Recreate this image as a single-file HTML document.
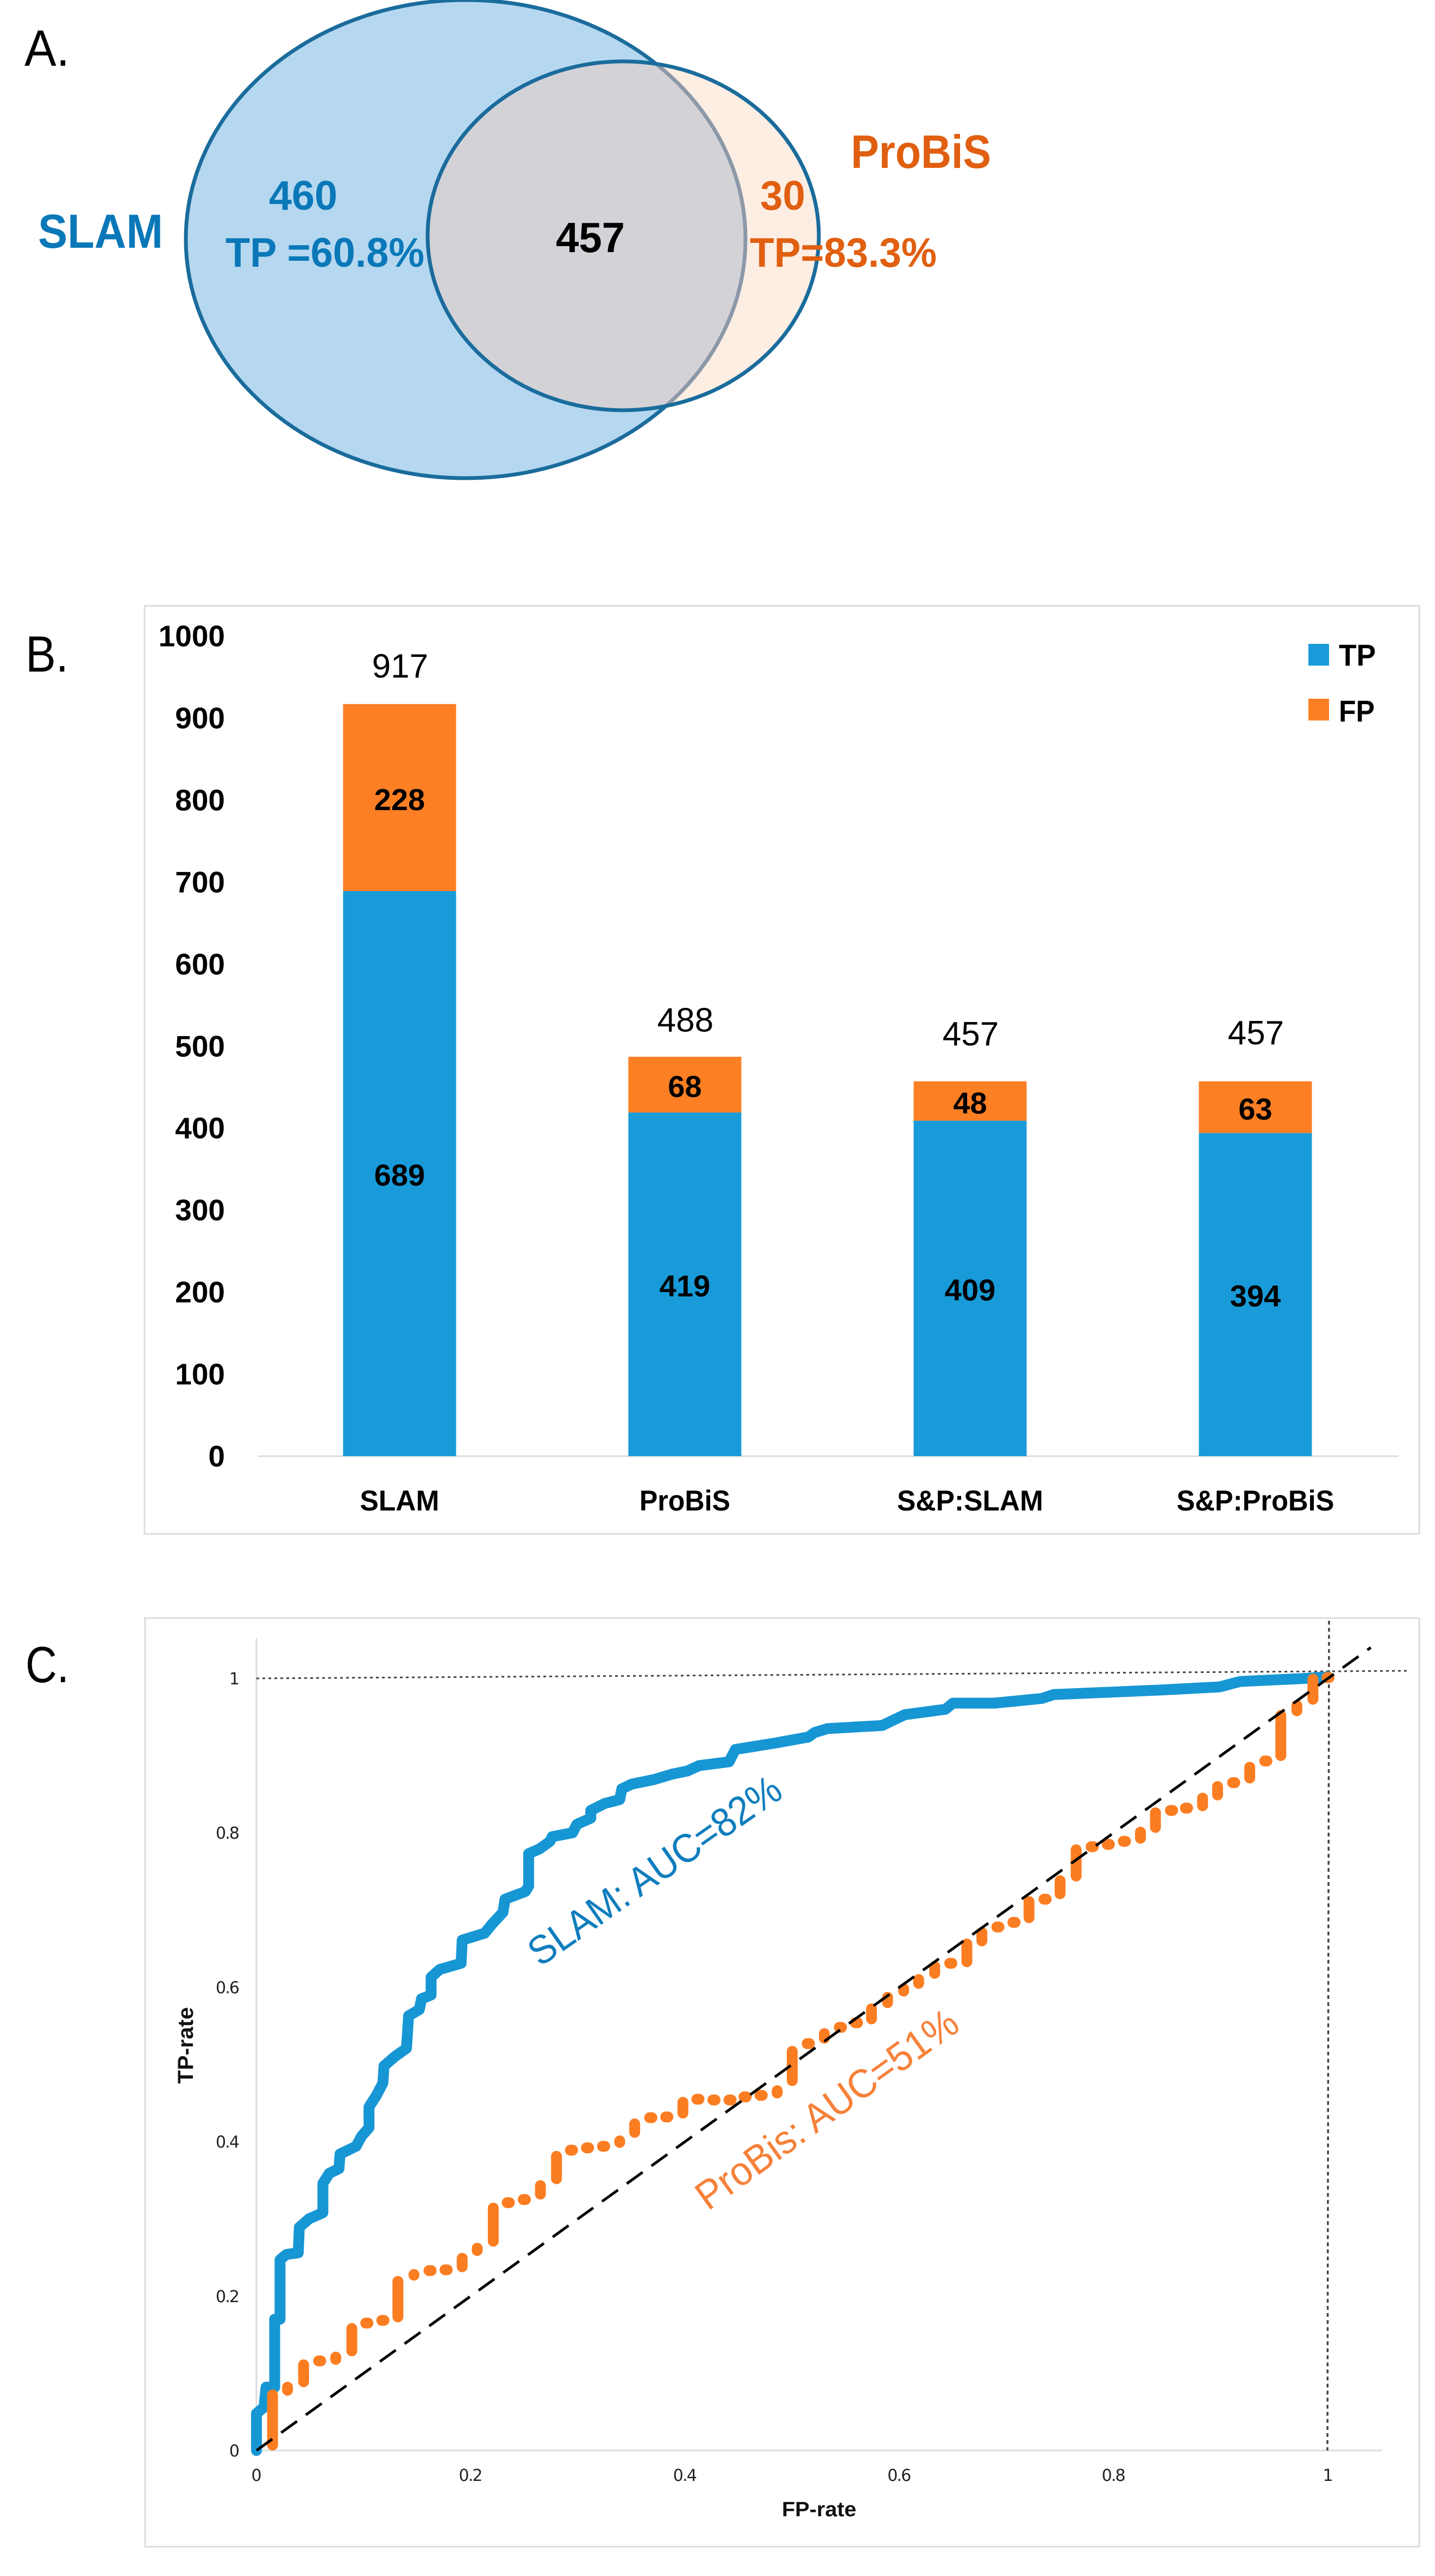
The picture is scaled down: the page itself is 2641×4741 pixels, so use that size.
<!DOCTYPE html>
<html lang="en">
<head>
<meta charset="utf-8">
<title>SLAM and ProBiS comparison</title>
<style>
html,body{margin:0;padding:0;background:#fff;}
svg{display:block;}
text{font-family:"Liberation Sans",sans-serif;}
.b{font-weight:bold;}
.tick-c{font-family:"DejaVu Sans","Liberation Sans",sans-serif;font-size:30px;fill:#222;}
</style>
</head>
<body>
<svg id="fig" xmlns="http://www.w3.org/2000/svg" width="2641" height="4741" viewBox="0 0 2641 4741">
  <rect x="0" y="0" width="2641" height="4741" fill="#ffffff"/>
  <defs>
    <clipPath id="clip-big"><ellipse cx="857" cy="440" rx="515" ry="440"/></clipPath>
    <clipPath id="clip-small"><ellipse cx="1147" cy="434" rx="360" ry="321"/></clipPath>
  </defs>

  <g id="panel-a">
    <text x="45" y="121" font-size="94" textLength="83" lengthAdjust="spacingAndGlyphs" fill="#000">A.</text>
    <ellipse cx="857" cy="440" rx="515" ry="440" fill="#b5d8f0" stroke="#1a6c9c" stroke-width="7"/>
    <ellipse cx="1147" cy="434" rx="360" ry="321" fill="#fdeee3"/>
    <ellipse cx="1147" cy="434" rx="360" ry="321" fill="#d3d2d7" clip-path="url(#clip-big)"/>
    <ellipse cx="857" cy="440" rx="515" ry="440" fill="none" stroke="#8b98a8" stroke-width="7" clip-path="url(#clip-small)"/>
    <ellipse cx="1147" cy="434" rx="360" ry="321" fill="none" stroke="#1a6c9c" stroke-width="7"/>
    <text class="b" x="70" y="456" font-size="88" textLength="230" lengthAdjust="spacingAndGlyphs" fill="#0a78b8">SLAM</text>
    <text class="b" x="495" y="386" font-size="76" textLength="126" lengthAdjust="spacingAndGlyphs" fill="#0a78b8">460</text>
    <text class="b" x="415" y="491" font-size="76" textLength="366" lengthAdjust="spacingAndGlyphs" fill="#0a78b8">TP =60.8%</text>
    <text class="b" x="1023" y="464" font-size="78" textLength="127" lengthAdjust="spacingAndGlyphs" fill="#000">457</text>
    <text class="b" x="1566" y="309" font-size="86" textLength="258" lengthAdjust="spacingAndGlyphs" fill="#e05f10">ProBiS</text>
    <text class="b" x="1399" y="386" font-size="76" textLength="83" lengthAdjust="spacingAndGlyphs" fill="#e05f10">30</text>
    <text class="b" x="1380" y="491" font-size="76" textLength="344" lengthAdjust="spacingAndGlyphs" fill="#e05f10">TP=83.3%</text>
  </g>

  <g id="panel-b">
    <rect x="266" y="1115" width="2346" height="1708" fill="#fff" stroke="#dcdcdc" stroke-width="3"/>
    <text x="47" y="1236" font-size="94" textLength="79" lengthAdjust="spacingAndGlyphs" fill="#000">B.</text>
    <line x1="475" y1="2680" x2="2574" y2="2680" stroke="#dcdcdc" stroke-width="3"/>
    <rect x="2408" y="1185" width="38" height="40" fill="#189bd8"/>
    <text class="b" x="2464" y="1225" font-size="56" textLength="68" lengthAdjust="spacingAndGlyphs" fill="#000">TP</text>
    <rect x="2408" y="1286" width="38" height="40" fill="#fd7f24"/>
    <text class="b" x="2464" y="1328" font-size="56" textLength="66" lengthAdjust="spacingAndGlyphs" fill="#000">FP</text>
    <g id="bars"></g>
  </g>

  <g id="panel-c">
    <rect x="267" y="2978" width="2345" height="1709" fill="#fff" stroke="#dcdcdc" stroke-width="3"/>
    <text x="47" y="3096" font-size="94" textLength="80" lengthAdjust="spacingAndGlyphs" fill="#000">C.</text>
    <line x1="472" y1="3015" x2="472" y2="4510" stroke="#dcdcdc" stroke-width="3"/>
    <line x1="472" y1="4510" x2="2544" y2="4510" stroke="#dcdcdc" stroke-width="3"/>
    <line x1="472" y1="3089" x2="2594" y2="3075" stroke="#444" stroke-width="3" stroke-dasharray="5 6"/>
    <line x1="2446" y1="2983" x2="2443" y2="4510" stroke="#444" stroke-width="3.5" stroke-dasharray="7 6"/>
    <g id="roc"></g>
    <text class="b" transform="translate(355 3835) rotate(-90)" font-size="40" textLength="141" lengthAdjust="spacingAndGlyphs" fill="#111">TP-rate</text>
    <text class="b" x="1439" y="4631" font-size="38" textLength="137" lengthAdjust="spacingAndGlyphs" fill="#111">FP-rate</text>
    <text transform="translate(994 3621) rotate(-35)" font-size="74" textLength="550" lengthAdjust="spacingAndGlyphs" fill="#0f7dbd">SLAM: AUC=82%</text>
    <text transform="translate(1303 4070) rotate(-35.7)" font-size="74" textLength="575" lengthAdjust="spacingAndGlyphs" fill="#f6813a">ProBis: AUC=51%</text>
  </g>
</svg>

<script>
// ---- Panel B data ----
const barCategories = ["SLAM", "ProBiS", "S&P:SLAM", "S&P:ProBiS"];
const tpValues = [689, 419, 409, 394];
const fpValues = [228, 68, 48, 63];
const totalValues = [917, 488, 457, 457];
const barTicks = [0, 100, 200, 300, 400, 500, 600, 700, 800, 900, 1000];

// ---- Panel C data ----
const slamFpr = [0,0,0.007,0.009,0.017,0.017,0.022,0.022,0.028,0.039,0.040,0.049,0.062,0.062,0.068,0.077,0.078,0.093,0.098,0.105,0.105,0.112,0.118,0.119,0.129,0.140,0.142,0.152,0.154,0.163,0.163,0.171,0.191,0.192,0.213,0.220,0.230,0.232,0.251,0.254,0.254,0.264,0.274,0.276,0.295,0.299,0.312,0.312,0.325,0.339,0.341,0.350,0.371,0.388,0.402,0.413,0.441,0.447,0.483,0.515,0.521,0.533,0.584,0.605,0.643,0.650,0.689,0.733,0.744,0.845,0.899,0.918,0.979,1];
const slamTpr = [0,0.048,0.056,0.082,0.082,0.170,0.170,0.247,0.254,0.256,0.289,0.300,0.308,0.346,0.359,0.365,0.384,0.394,0.407,0.418,0.445,0.460,0.476,0.498,0.510,0.521,0.563,0.571,0.585,0.590,0.613,0.623,0.631,0.661,0.670,0.682,0.697,0.714,0.724,0.731,0.773,0.779,0.789,0.795,0.800,0.811,0.819,0.829,0.838,0.843,0.857,0.863,0.869,0.876,0.880,0.887,0.892,0.908,0.916,0.924,0.930,0.935,0.939,0.953,0.960,0.968,0.968,0.974,0.979,0.985,0.989,0.996,1.000,1.002];

const probisFpr = [0.015,0.029,0.044,0.059,0.074,0.089,0.103,0.118,0.132,0.147,0.162,0.177,0.192,0.206,0.221,0.235,0.250,0.265,0.280,0.294,0.309,0.324,0.339,0.353,0.368,0.383,0.398,0.412,0.427,0.442,0.456,0.471,0.486,0.500,0.515,0.530,0.545,0.560,0.574,0.589,0.604,0.618,0.633,0.648,0.663,0.677,0.692,0.707,0.721,0.736,0.750,0.765,0.780,0.795,0.810,0.825,0.839,0.854,0.868,0.883,0.897,0.912,0.927,0.942,0.956,0.971,0.986,1.000];
const probisTprLow = [0,0.071,0.082,0.116,0.111,0.122,0.165,0.165,0.166,0.220,0.233,0.234,0.231,0.252,0.264,0.321,0.325,0.325,0.345,0.389,0.392,0.394,0.392,0.405,0.431,0.432,0.430,0.455,0.454,0.454,0.458,0.460,0.456,0.472,0.521,0.527,0.548,0.554,0.552,0.573,0.588,0.598,0.611,0.631,0.626,0.653,0.678,0.684,0.683,0.714,0.714,0.737,0.782,0.785,0.789,0.786,0.800,0.829,0.832,0.828,0.842,0.865,0.864,0.893,0.893,0.951,0.966,1.001];
const probisTprHigh = [0.079,0.089,0.118,0.116,0.128,0.165,0.165,0.172,0.226,0.235,0.233,0.234,0.256,0.269,0.321,0.321,0.325,0.350,0.388,0.389,0.392,0.394,0.408,0.430,0.431,0.432,0.458,0.455,0.454,0.454,0.458,0.460,0.473,0.524,0.533,0.547,0.548,0.554,0.579,0.594,0.605,0.617,0.634,0.631,0.663,0.678,0.678,0.684,0.718,0.714,0.745,0.785,0.782,0.785,0.789,0.808,0.833,0.829,0.832,0.852,0.867,0.865,0.892,0.893,0.959,0.972,1.006,1.001];

const chanceFpr = [0, 1.04];
const chanceTpr = [0, 1.04];
const rocXTicks = ["0", "0.2", "0.4", "0.6", "0.8", "1"];
const rocYTicks = ["0", "0.2", "0.4", "0.6", "0.8", "1"];

// ---- Helpers ----
const SVGNS = "http://www.w3.org/2000/svg";
function make(parent, tag, attrs, txt) {
  const el = document.createElementNS(SVGNS, tag);
  for (const k in attrs) el.setAttribute(k, attrs[k]);
  if (txt !== undefined) el.textContent = txt;
  parent.appendChild(el);
  return el;
}

// ---- Panel B axis functions ----
const barY = v => 2680 - v * 1.5095;
const barX = i => 737.4 + i * 525;
const barWidth = 208;
const categoryLabelWidths = [146, 167, 269, 290];
const totalLabelGaps = [49, 45, 66, 68];

const barsG = document.getElementById("bars");
barTicks.forEach(t => {
  const lab = make(barsG, "text", {x: 414, y: barY(t) + 19, "text-anchor": "end", "font-size": 55, "font-weight": "bold", fill: "#000"}, String(t));
  
  
});
barCategories.forEach((c, i) => {
  const cx = barX(i) - 2;
  const tp = make(barsG, "rect", {x: cx - barWidth / 2, y: barY(tpValues[i]), width: barWidth, height: barY(0) - barY(tpValues[i]), fill: "#189bd8"});
  
  
  const top = tpValues[i] + fpValues[i];
  const fp = make(barsG, "rect", {x: cx - barWidth / 2, y: barY(top), width: barWidth, height: barY(tpValues[i]) - barY(top), fill: "#fd7f24"});
  
  
  const tpLab = make(barsG, "text", {x: cx, y: barY(tpValues[i] / 2) + 22, "text-anchor": "middle", "font-size": 56, "font-weight": "bold", fill: "#000"}, String(tpValues[i]));
  
  
  const fpLab = make(barsG, "text", {x: cx, y: barY(tpValues[i] + fpValues[i] / 2) + 23, "text-anchor": "middle", "font-size": 56, "font-weight": "bold", fill: "#000"}, String(fpValues[i]));
  
  
  const totLab = make(barsG, "text", {x: cx + 1, y: barY(totalValues[i]) - totalLabelGaps[i], "text-anchor": "middle", "font-size": 62, fill: "#000"}, String(totalValues[i]));
  
  
  const catLab = make(barsG, "text", {x: cx, y: 2780, "text-anchor": "middle", "font-size": 53, "font-weight": "bold", fill: "#000", textLength: categoryLabelWidths[i], lengthAdjust: "spacingAndGlyphs"}, c);
  
  
});

// ---- Panel C axis functions ----
const rocX = v => 472 + v * 1972;
const rocY = v => 4510 - v * 1421;

const rocG = document.getElementById("roc");
rocXTicks.forEach(t => {
  const lab = make(rocG, "text", {class: "tick-c", x: rocX(parseFloat(t)), y: 4566, "text-anchor": "middle"}, t);
  if (t.length > 1) lab.setAttribute('textLength', 44);
  
  
});
rocYTicks.forEach(t => {
  const lab = make(rocG, "text", {class: "tick-c", x: 441, y: rocY(parseFloat(t)) + 11, "text-anchor": "end"}, t);
  if (t.length > 1) lab.setAttribute('textLength', 44);
  
  
});

const slamPts = slamFpr.map((x, i) => rocX(x).toFixed(1) + "," + rocY(slamTpr[i]).toFixed(1)).join(" ");
const slamLine = make(rocG, "polyline", {points: slamPts, fill: "none", stroke: "#1796d4", "stroke-width": 20, "stroke-linejoin": "round", "stroke-linecap": "round"});



probisFpr.forEach((x, i) => {
  const cx = rocX(x);
  let y1 = rocY(probisTprHigh[i]) + 10;
  let y2 = rocY(probisTprLow[i]) - 10;
  let x1 = cx, x2 = cx;
  if (y2 <= y1) {
    const m = (y1 + y2) / 2;
    y1 = m; y2 = m; x1 = cx - 2; x2 = cx + 2;
  }
  const mark = make(rocG, "line", {x1: x1, y1: y1, x2: x2, y2: y2, stroke: "#fb7d22", "stroke-width": 20, "stroke-linecap": "round"});
  
  
});

const chance = make(rocG, "line", {x1: rocX(chanceFpr[0]), y1: rocY(chanceTpr[0]), x2: rocX(chanceFpr[1]), y2: rocY(chanceTpr[1]), stroke: "#000", "stroke-width": 5, "stroke-dasharray": "36 20"});


</script>
</body>
</html>
